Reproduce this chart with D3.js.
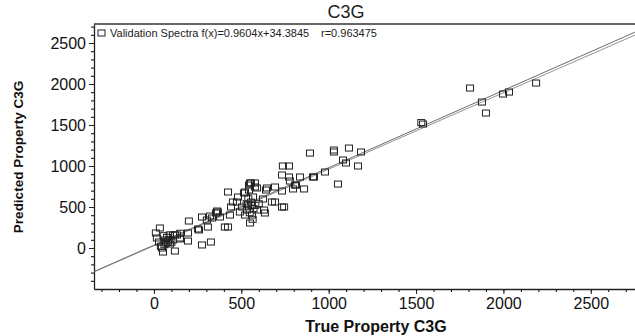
<!DOCTYPE html>
<html>
<head>
<meta charset="utf-8">
<script src="https://cdn.jsdelivr.net/npm/d3@7"></script>
<style>
  body { margin: 0; background: #fff; }
  svg { display: block; font-family: "Liberation Sans", Arial, sans-serif; }
</style>
</head>
<body>
<svg id="chart" width="635" height="336"></svg>
<script>
// values
var trueVals = [
  1809, 1877, 1900, 1998, 2032, 2187, 1540, 1530,
  1030, 1116, 1185, 1082, 1099, 1168, 1053, 979, 893, 1030, 916, 859, 836, 807, 796, 773, 773,
  738, 733, 778, 733, 745, 693, 693, 641, 630, 624, 550, 578, 590, 521, 567, 733, 910, 813, 675, 647, 635,
  34, 11, 17, 29, 46, 52, 63, 80, 92, 109, 132, 120, 109, 149, 195, 195, 200, 258, 275, 275, 326, 303, 309,
  332, 355, 366, 378, 406, 424, 424, 435, 441, 452, 475, 481, 492, 504, 521, 532, 538, 544, 555, 561, 550,
  578, 590, 515, 544, 361, 252, 321, 149, 55, 70, 85, 100, 40, 60, 75, 90, 150, 120,
  560, 570, 555, 548, 580, 565, 540, 600, 530
];
var predVals = [
  1951, 1780, 1646, 1878, 1902, 2012, 1512, 1530,
  1171, 1219, 1171, 1073, 1037, 1000, 780, 927, 1158, 1195, 866, 720, 866, 768, 720, 866, 1000,
  1000, 890, 817, 500, 500, 561, 744, 707, 463, 598, 793, 793, 732, 683, 622, 695, 866, 768, 561, 732, 427,
  244, 183, 122, 73, 0, -49, 98, 73, 49, 159, 159, -37, 98, 122, 85, 183, 329, 220, 378, 37, 73, 341, 256,
  366, 427, 439, 378, 256, 256, 683, 402, 500, 561, 561, 622, 439, 500, 402, 463, 524, 707, 793, 402, 305,
  744, 463, 671, 768, 451, 232, 390, 110, 150, 60, 100, 70, 20, 40, 130, 160, 180, 160,
  520, 480, 560, 430, 520, 350, 600, 540, 540
];
var xTicks = [0, 500, 1000, 1500, 2000, 2500];
var yTicks = [0, 500, 1000, 1500, 2000, 2500];
// the two straight lines (end points at the plot edges)
var lineEnds = [-343, 2753];
var fitA = [-288, 2633];
var fitB = [-292, 2597];
var legendText = "Validation Spectra f(x)=0.9604x+34.3845";
var rText = "r=0.963475";

var svg = d3.select("#chart"),
    margin = {top: 24, right: 0, bottom: 47, left: 94},
    width = +svg.attr("width") - margin.left - margin.right,
    height = +svg.attr("height") - margin.top - margin.bottom,
    g = svg.append("g").attr("transform", "translate(" + margin.left + "," + margin.top + ")");

var x = d3.scaleLinear().domain([-343, 2753]).range([0, width]);
var y = d3.scaleLinear().domain([-500, 2732]).range([height, 0]);

var minorX = d3.range(-300, 2754, 100);
var minorY = d3.range(-400, 2732, 100);

// minor ticks
g.append("g")
    .attr("transform", "translate(0," + height + ")")
    .call(d3.axisBottom(x).tickValues(minorX).tickSize(3).tickFormat(""))
    .call(function(a) { a.select(".domain").remove(); });
g.append("g")
    .call(d3.axisLeft(y).tickValues(minorY).tickSize(3).tickFormat(""))
    .call(function(a) { a.select(".domain").remove(); });

// major axes
var xAxis = g.append("g")
    .attr("transform", "translate(0," + height + ")")
    .call(d3.axisBottom(x).tickValues(xTicks).tickFormat(d3.format("d"))
      .tickSize(5).tickSizeOuter(0).tickPadding(4));
var yAxis = g.append("g")
    .call(d3.axisLeft(y).tickValues(yTicks).tickFormat(d3.format("d"))
      .tickSize(5).tickSizeOuter(0).tickPadding(3));

[xAxis, yAxis].forEach(function(a) {
  a.selectAll("text").attr("font-size", 16).attr("fill", "#111")
    .attr("font-family", "'Liberation Sans', Arial, sans-serif");
  a.selectAll("line").attr("stroke", "#222");
  a.select(".domain").attr("stroke", "#222").attr("stroke-width", 1.3);
});

// top frame line
g.append("line")
    .attr("x1", 0).attr("x2", width)
    .attr("y1", 0).attr("y2", 0)
    .attr("stroke", "#333").attr("stroke-width", 1.3);

// lines
var line = d3.line().x(function(d) { return x(d[0]); }).y(function(d) { return y(d[1]); });
g.append("path")
    .datum([[lineEnds[0], fitA[0]], [lineEnds[1], fitA[1]]])
    .attr("d", line).attr("fill", "none").attr("stroke", "#444").attr("stroke-width", 0.8);
g.append("path")
    .datum([[lineEnds[0], fitB[0]], [lineEnds[1], fitB[1]]])
    .attr("d", line).attr("fill", "none").attr("stroke", "#777").attr("stroke-width", 0.8);

// points
var pts = trueVals.map(function(v, i) { return [v, predVals[i]]; });
g.append("g").selectAll("rect")
    .data(pts)
    .enter().append("rect")
    .attr("x", function(d) { return x(d[0]) - 3.5; })
    .attr("y", function(d) { return y(d[1]) - 3; })
    .attr("width", 7)
    .attr("height", 6)
    .attr("fill", "none")
    .attr("stroke", "#222")
    .attr("stroke-width", 1);

// legend
g.append("rect")
    .attr("x", 4).attr("y", 6).attr("width", 7).attr("height", 6)
    .attr("fill", "none").attr("stroke", "#222");
g.append("text")
    .attr("x", 16).attr("y", 13)
    .attr("font-size", 11).attr("fill", "#222")
    .text(legendText);
g.append("text")
    .attr("x", 227).attr("y", 13)
    .attr("font-size", 11).attr("fill", "#222")
    .text(rText);

// title and axis labels
svg.append("text")
    .attr("x", 346).attr("y", 18)
    .attr("text-anchor", "middle")
    .attr("font-size", 18).attr("fill", "#222")
    .text("C3G");
svg.append("text")
    .attr("x", 376).attr("y", 332)
    .attr("text-anchor", "middle")
    .attr("font-size", 16).attr("font-weight", "bold").attr("fill", "#111")
    .text("True Property C3G");
svg.append("text")
    .attr("transform", "translate(23,157) rotate(-90)")
    .attr("text-anchor", "middle")
    .attr("font-size", 13.5).attr("font-weight", "bold").attr("fill", "#111")
    .text("Predicted Property C3G");
</script>
</body>
</html>
